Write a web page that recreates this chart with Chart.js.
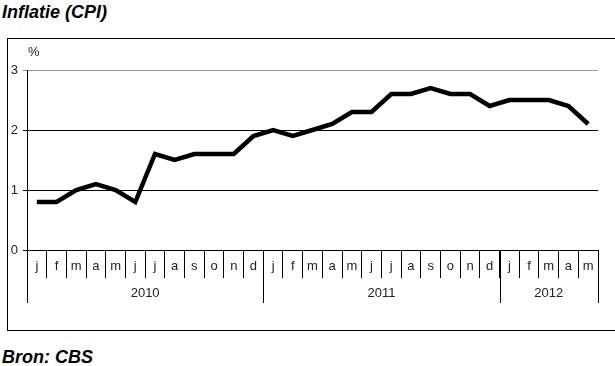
<!DOCTYPE html>
<html>
<head>
<meta charset="utf-8">
<script src="https://cdn.jsdelivr.net/npm/chart.js@4.4.1/dist/chart.umd.min.js"></script>
<style>
  html, body { margin: 0; padding: 0; background: #fff; overflow: hidden; }
  body { width: 615px; height: 366px; position: relative; font-family: "Liberation Sans", Arial, sans-serif; }
  .caption { position: absolute; left: 2px; font-size: 18px; line-height: 18px; font-weight: bold; font-style: italic; color: #000; }
  #frame { position: absolute; left: 7px; top: 38px; width: 620px; height: 291px; border: 1px solid #000; }
  #chart { position: absolute; left: 0; top: 0; }
</style>
</head>
<body>
<div class="caption" style="top:3px">Inflatie (CPI)</div>
<div id="frame"><canvas id="chart" width="607" height="291"></canvas></div>
<div class="caption" style="top:348px">Bron: CBS</div>
<script>
// data — CPI inflation, Jan 2010 to May 2012
const months = [
  "j", "f", "m", "a", "m", "j", "j", "a", "s", "o", "n", "d",
  "j", "f", "m", "a", "m", "j", "j", "a", "s", "o", "n", "d",
  "j", "f", "m", "a", "m",
];
const cpi = [
  0.8, 0.8, 1.0, 1.1, 1.0, 0.8, 1.6, 1.5, 1.6, 1.6, 1.6, 1.9,
  2.0, 1.9, 2.0, 2.1, 2.3, 2.3, 2.6, 2.6, 2.7, 2.6, 2.6, 2.4,
  2.5, 2.5, 2.5, 2.4, 2.1,
];
const years = ["2010", "2011", "2012"];
const yearMonths = [12, 12, 5];
const yTicks = [0, 1, 2, 3];

const FONT = "'Liberation Sans', Arial, sans-serif";
const YEAR_ROW = 53; // month row + year row below the plot

// year row: long separators and year labels under the month ticks
const yearAxis = {
  id: "yearAxis",
  afterDraw(chart) {
    const ctx = chart.ctx;
    const xs = chart.scales.x;
    const area = chart.chartArea;
    const step = xs.getPixelForValue(1) - xs.getPixelForValue(0);
    const bottom = area.bottom + YEAR_ROW;
    ctx.save();
    ctx.strokeStyle = "#000";
    ctx.lineWidth = 1;
    let start = 0;
    const edges = [0];
    years.forEach((y, i) => {
      const end = start + yearMonths[i];
      edges.push(end);
      const x0 = xs.getPixelForValue(start) - step / 2;
      const x1 = xs.getPixelForValue(end - 1) + step / 2;
      ctx.fillStyle = "#222";
      ctx.font = "13px " + FONT;
      ctx.textAlign = "center";
      ctx.textBaseline = "middle";
      ctx.fillText(y, (x0 + x1) / 2, area.bottom + 43);
      start = end;
    });
    edges.forEach(e => {
      const x = Math.round(xs.getPixelForValue(Math.max(e - 1, 0)) + (e === 0 ? -step / 2 : step / 2)) + 0.5;
      ctx.beginPath();
      ctx.moveTo(x, area.bottom);
      ctx.lineTo(x, bottom);
      ctx.stroke();
    });
    // unit label
    ctx.fillStyle = "#222";
    ctx.font = "13px " + FONT;
    ctx.textAlign = "left";
    ctx.textBaseline = "middle";
    ctx.fillText("%", area.left + 1, area.top - 18);
    ctx.restore();
  },
};

new Chart(document.getElementById("chart"), {
  type: "line",
  data: {
    labels: months,
    datasets: [
      {
        label: "Inflatie",
        data: cpi,
        borderColor: "#000",
        borderWidth: 4.5,
        pointRadius: 0,
        tension: 0,
        fill: false,
      },
    ],
  },
  options: {
    responsive: false,
    animation: false,
    devicePixelRatio: 1,
    layout: { padding: { top: 31, right: 17, left: 0, bottom: 27 } },
    plugins: { legend: { display: false }, tooltip: { enabled: false } },
    scales: {
      x: {
        offset: true,
        grid: {
          offset: true,
          drawOnChartArea: true,
          color: c => (c.index === months.length ? "#999" : "rgba(0,0,0,0)"),
          tickColor: "#000",
          tickLength: 28,
        },
        border: { display: true, color: "#000" },
        ticks: {
          color: "#222",
          font: { family: FONT, size: 13 },
          padding: -19,
          maxRotation: 0,
          autoSkip: false,
        },
        afterFit: s => { s.height = YEAR_ROW; },
      },
      y: {
        min: 0,
        max: 3,
        afterBuildTicks: s => { s.ticks = yTicks.map(v => ({ value: v })); },
        grid: {
          color: c => (c.tick && c.tick.value === 3 ? "#999" : "#000"),
          tickColor: c => (c.tick && c.tick.value === 3 ? "#999" : "#000"),
          tickLength: 4,
        },
        border: { display: true, color: "#000" },
        ticks: {
          color: "#222",
          font: { family: FONT, size: 13 },
          padding: 5,
        },
        afterFit: s => { s.width = 19; },
      },
    },
  },
  plugins: [yearAxis],
});
</script>
</body>
</html>
